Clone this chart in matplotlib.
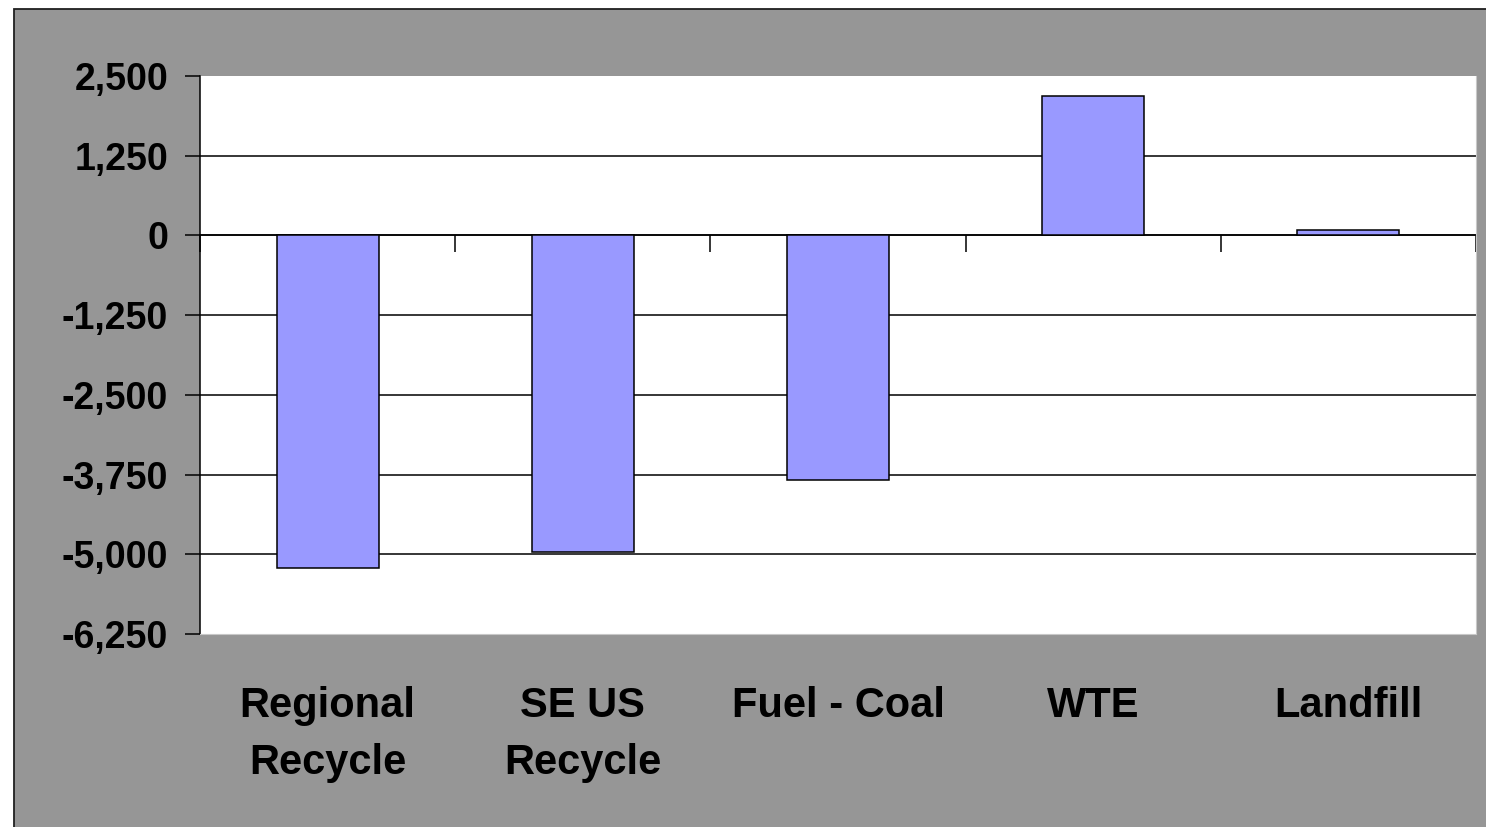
import matplotlib
matplotlib.use("Agg")
import matplotlib.pyplot as plt
from matplotlib.patches import Rectangle
import numpy as np

categories = ["Regional\nRecycle", "SE US\nRecycle", "Fuel - Coal", "WTE", "Landfill"]
values = [-5210, -4970, -3840, 2190, 90]
yticks = [2500, 1250, 0, -1250, -2500, -3750, -5000, -6250]

GRAY = "#969696"
BAR = "#9999FF"
FONT = "Liberation Sans"

fig = plt.figure(figsize=(14.86, 8.27), dpi=100, facecolor="white")
fig.patches.append(Rectangle((13.5 / 1486, -0.01), 1.02, (818.5) / 827 + 0.01,
                             transform=fig.transFigure, facecolor=GRAY,
                             edgecolor="#202020", linewidth=1.3, zorder=-10))

ax = fig.add_axes([200 / 1486, (827 - 634) / 827, 1276 / 1486, (634 - 76) / 827])
ax.set_facecolor("white")

x = np.arange(len(categories))
ax.bar(x, values, width=0.4, color=BAR, edgecolor="black", linewidth=1.1, zorder=3)

ax.set_xlim(-0.5, len(categories) - 0.5)
ax.set_ylim(-6250, 2500)
ax.set_yticks(yticks)
ax.set_yticklabels([f"{v:,}" for v in yticks], fontfamily=FONT,
                   fontweight="bold", fontsize=27)
ax.tick_params(axis="y", direction="out", length=11, width=1.1, pad=12, color="black")

for v in yticks[1:-1]:
    ax.axhline(v, color="black", linewidth=1.1, zorder=1)

ax.set_xticks([])
ax.spines["top"].set_visible(False)
ax.spines["right"].set_color("#c8c8c8")
ax.spines["bottom"].set_color("#c8c8c8")
ax.spines["left"].set_color("black")
ax.spines["left"].set_linewidth(1.1)

sec = ax.secondary_xaxis(0, transform=ax.transData)
sec.set_xticks(np.arange(len(categories) + 1) - 0.5)
sec.set_xticklabels([])
sec.tick_params(direction="out", length=12, width=1.1, color="black")
sec.spines["bottom"].set_color("black")
sec.spines["bottom"].set_linewidth(1.1)

for xi, lab in zip(x, categories):
    ax.text(xi, -0.093, lab, transform=ax.get_xaxis_transform(), ha="center",
            va="top", fontfamily=FONT, fontweight="bold", fontsize=30,
            linespacing=1.55)

fig.savefig("out.png", dpi=100, facecolor=fig.get_facecolor())
